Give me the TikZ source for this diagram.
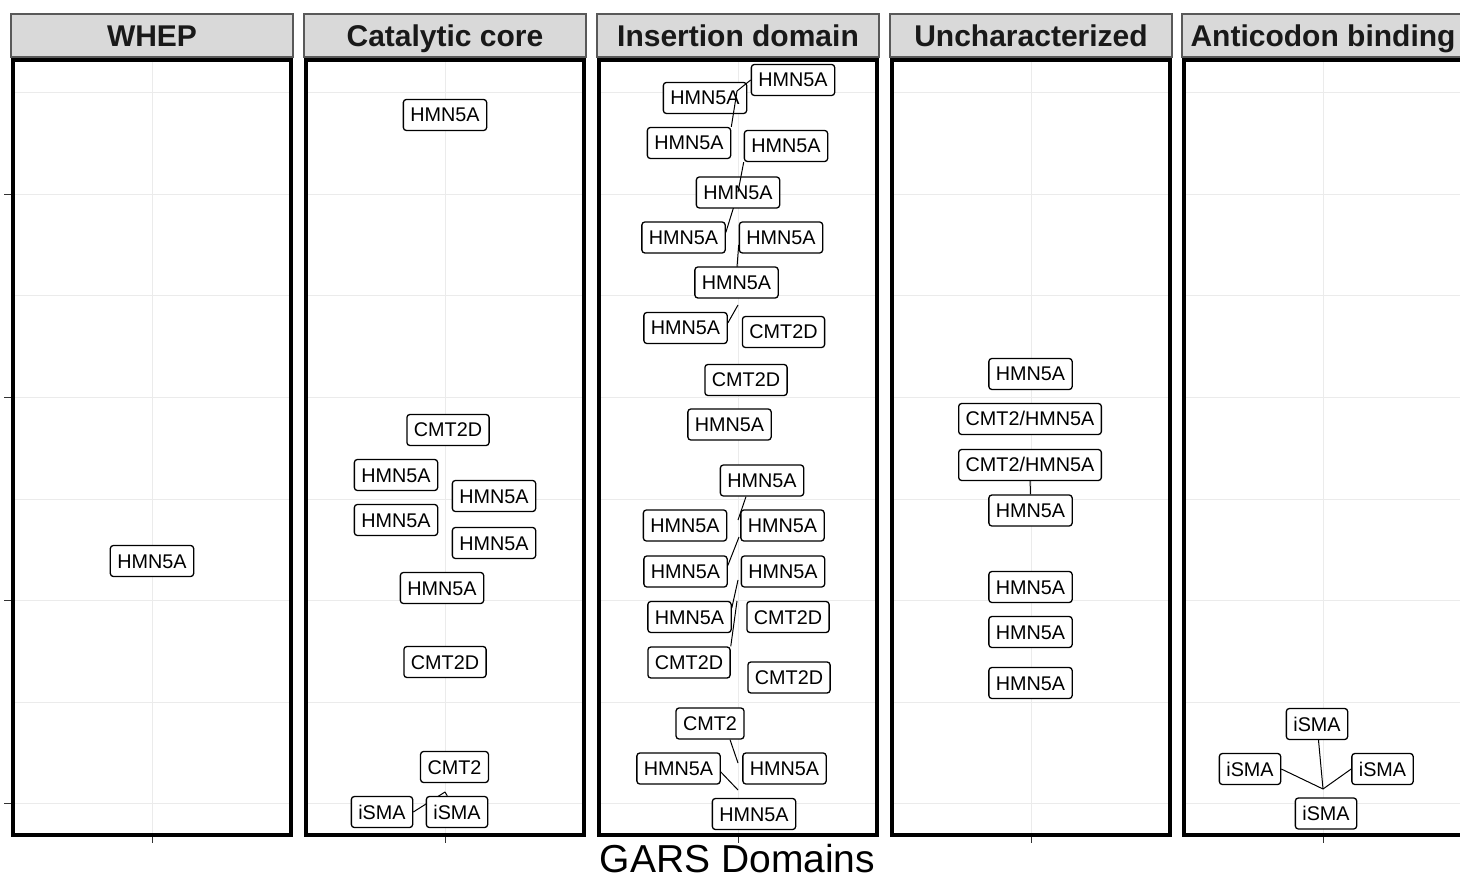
\documentclass[tikz,border=0pt]{standalone}
\usepackage{fontspec}
\setmainfont{Liberation Sans}
\pgfdeclarelayer{background}
\pgfsetlayers{background,main}
\definecolor{stripgray}{HTML}{D9D9D9}
\definecolor{gridgray}{HTML}{EBEBEB}
\definecolor{tickgray}{HTML}{333333}
\tikzset{
  lbl/.style={draw, fill=white, rounded corners=1.5pt, line width=0.65pt,
    inner xsep=3.5pt, inner ysep=0pt, minimum height=15.5pt,
    text height=7pt, text depth=0pt, font=\fontsize{9.9}{11}\selectfont},
  strip/.style={draw=gray!70!black, fill=stripgray, line width=0.6pt,
    minimum width=141pt, minimum height=21.5pt, inner sep=0pt,
    text height=11.8pt, text depth=0.5pt, text=black!90,
    font=\fontsize{15}{17}\selectfont\bfseries},
  seg/.style={line width=0.5pt},
}
\begin{document}
\begin{tikzpicture}[x=0.5pt,y=-0.5pt]
  \clip (0,0) rectangle (1460,881);
  % facets
  \foreach \xl/\title [count=\i] in {11/WHEP,304/Catalytic core,597/Insertion domain,890/Uncharacterized,1182/Anticodon binding} {
    \begin{pgfonlayer}{background}
      \foreach \y in {93,194.5,296,397.5,499,600.5,702,803.5}
        \draw[gridgray, line width=0.5pt] (\xl,\y) -- (\xl+282,\y);
      \draw[gridgray, line width=0.5pt] (\xl+141,58) -- (\xl+141,836);
    \end{pgfonlayer}
    \node[strip] (s\i) at (\xl+141,35.5) {\title};
    \draw[line width=1.75pt] (\xl+1.8,60) rectangle (\xl+280.2,835);
    \draw[tickgray, line width=0.5pt] (\xl+141,837) -- (\xl+141,843);
  }
  \foreach \y in {194.5,397.5,600.5,803.5} \draw[tickgray, line width=0.5pt] (4,\y) -- (11,\y);
  \node[inner sep=0pt, font=\fontsize{19.5}{22}\selectfont] (xlab) at (737.5,859) {GARS Domains};

  % WHEP
  \node[lbl] (w1) at (152,561) {HMN5A};

  % Catalytic core
  \node[lbl] (c1) at (445,115) {HMN5A};
  \node[lbl] (c2) at (448,430) {CMT2D};
  \node[lbl] (c3) at (396,475) {HMN5A};
  \node[lbl] (c4) at (494,496) {HMN5A};
  \node[lbl] (c5) at (396,520) {HMN5A};
  \node[lbl] (c6) at (494,543) {HMN5A};
  \node[lbl] (c7) at (442,588) {HMN5A};
  \node[lbl] (c8) at (445,662) {CMT2D};
  \node[lbl] (c9) at (454.5,767) {CMT2};
  \node[lbl] (c10) at (382,812) {iSMA};
  \node[lbl] (c11) at (457,812) {iSMA};
  \coordinate (cp1) at (445,792);

  % Insertion domain
  \node[lbl] (i1) at (793,80) {HMN5A};
  \node[lbl] (i2) at (705,98) {HMN5A};
  \node[lbl] (i3) at (689,143) {HMN5A};
  \node[lbl] (i4) at (786,146) {HMN5A};
  \node[lbl] (i5) at (738,192.5) {HMN5A};
  \node[lbl] (i6) at (683.5,237.5) {HMN5A};
  \node[lbl] (i7) at (781,237.5) {HMN5A};
  \node[lbl] (i8) at (736.5,282.5) {HMN5A};
  \node[lbl] (i9) at (685.5,328) {HMN5A};
  \node[lbl] (i10) at (783.5,332) {CMT2D};
  \node[lbl] (i11) at (746,380) {CMT2D};
  \node[lbl] (i12) at (729.5,424.5) {HMN5A};
  \node[lbl] (i13) at (762,480.5) {HMN5A};
  \node[lbl] (i14) at (685,525.5) {HMN5A};
  \node[lbl] (i15) at (782.5,525.5) {HMN5A};
  \node[lbl] (i16) at (685.5,571.5) {HMN5A};
  \node[lbl] (i17) at (783,571.5) {HMN5A};
  \node[lbl] (i18) at (689.5,617) {HMN5A};
  \node[lbl] (i19) at (788,617) {CMT2D};
  \node[lbl] (i20) at (689,662.5) {CMT2D};
  \node[lbl] (i21) at (789,677.5) {CMT2D};
  \node[lbl] (i22) at (710,723.5) {CMT2};
  \node[lbl] (i23) at (678.5,768.5) {HMN5A};
  \node[lbl] (i24) at (784.5,768.5) {HMN5A};
  \node[lbl] (i25) at (754,814) {HMN5A};
  \coordinate (ip1) at (737,91);
  \coordinate (ip2) at (738,192);
  \coordinate (ip3) at (734,206);
  \coordinate (ip4) at (737,267);
  \coordinate (ip5) at (738,305);
  \coordinate (ip6) at (738,520);
  \coordinate (ip7) at (739,537);
  \coordinate (ip8) at (738,580);
  \coordinate (ip9) at (737,601);
  \coordinate (ip10) at (738,763);
  \coordinate (ip11) at (738,790);

  % Uncharacterized
  \node[lbl] (u1) at (1030.5,374) {HMN5A};
  \node[lbl] (u2) at (1030,419) {CMT2/HMN5A};
  \node[lbl] (u3) at (1030,465) {CMT2/HMN5A};
  \node[lbl] (u4) at (1030.5,510.5) {HMN5A};
  \node[lbl] (u5) at (1030.5,587) {HMN5A};
  \node[lbl] (u6) at (1030.5,632) {HMN5A};
  \node[lbl] (u7) at (1030.5,683) {HMN5A};

  % Anticodon binding
  \node[lbl] (a1) at (1317,724) {iSMA};
  \node[lbl] (a2) at (1250,769) {iSMA};
  \node[lbl] (a3) at (1382.5,769) {iSMA};
  \node[lbl] (a4) at (1326,813.5) {iSMA};
  \coordinate (ap) at (1323,789);

  % repel segments
  \begin{pgfonlayer}{background}
    \draw[seg] (c10.east) -- (cp1);
    \draw[seg] (c11) -- (cp1);
    \draw[seg] ([yshift=2.5pt]i6.east) -- (ip3);
    \draw[seg] ([yshift=-3.75pt]i7.west) -- (ip4);
    \draw[seg] ([yshift=2.5pt]i9.east) -- (ip5);
    \draw[seg] ([xshift=-8pt]i13.south) -- (ip6);
    \draw[seg] ([yshift=3pt]i16.east) -- (ip7);
    \draw[seg] ([yshift=4.5pt]i18.east) -- (ip8);
    \draw[seg] (i20.north east) -- (ip9);
    \draw[seg] ([xshift=10pt]i22.south) -- (ip10);
    \draw[seg] ([yshift=-1.75pt]i23.east) -- (ip11);
    \draw[seg] (u3) -- (u4);
    \draw[seg] (a1) -- (ap);
    \draw[seg] (a2.east) -- (ap);
    \draw[seg] (a3.west) -- (ap);
  \end{pgfonlayer}
  \draw[seg] (i1.west) -- (ip1);
  \draw[seg] (i3.north east) -- (ip1);
  \draw[seg] (i4.south west) -- (ip2);
\end{tikzpicture}
\end{document}
